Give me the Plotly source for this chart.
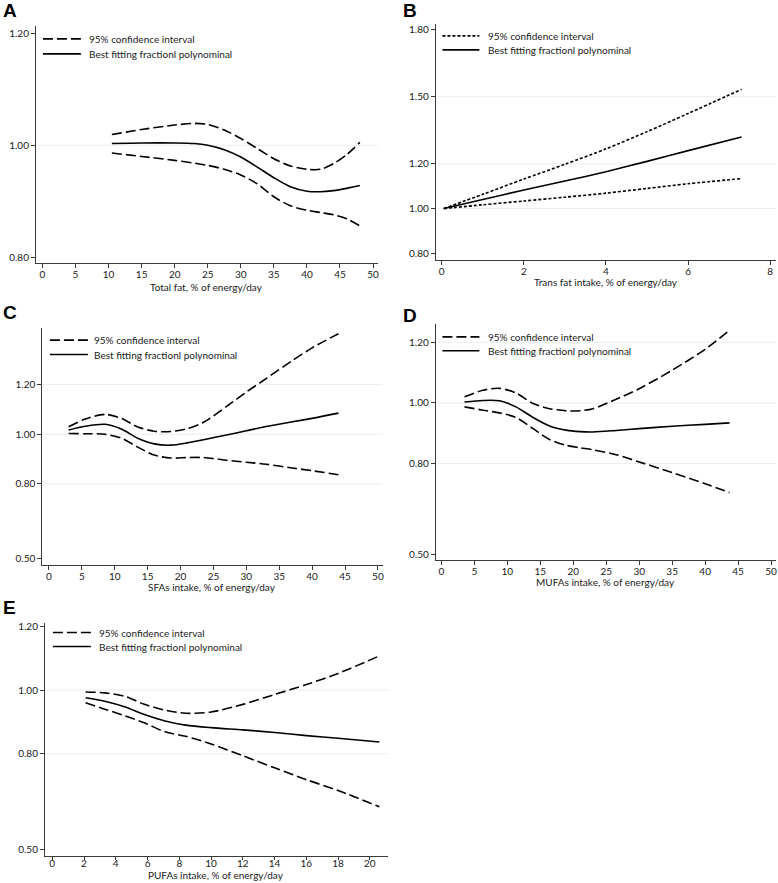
import plotly.graph_objects as go

W, H = 778, 883

# ---------------- data ----------------
legend_labels = ["95% confidence interval", "Best fitting fractionl polynominal"]
panel_letters = ["A", "B", "C", "D", "E"]
x_titles = ["Total fat, % of energy/day", "Trans fat intake, % of energy/day",
            "SFAs intake, % of energy/day", "MUFAs intake, % of energy/day",
            "PUFAs intake, % of energy/day"]

a_x = [10.5, 15, 20, 23, 25, 27.5, 30, 32.5, 35, 37.5, 40, 42, 44, 46, 48]
a_fit = [1.003, 1.004, 1.004, 1.003, 1.000, 0.992, 0.979, 0.961, 0.942, 0.926, 0.918, 0.917, 0.919, 0.923, 0.928]
a_hi = [1.019, 1.028, 1.036, 1.039, 1.037, 1.027, 1.012, 0.994, 0.976, 0.963, 0.957, 0.957, 0.967, 0.983, 1.005]
a_lo = [0.986, 0.980, 0.973, 0.968, 0.964, 0.957, 0.947, 0.931, 0.908, 0.892, 0.884, 0.880, 0.876, 0.869, 0.856]

b_x = [0.05, 1, 2, 3, 4, 5, 6, 7.3]
b_fit = [1.000, 1.041, 1.083, 1.123, 1.165, 1.211, 1.259, 1.320]
b_hi = [1.000, 1.064, 1.132, 1.198, 1.267, 1.344, 1.425, 1.533]
b_lo = [1.000, 1.017, 1.034, 1.051, 1.069, 1.090, 1.111, 1.134]

c_x = [3, 5.5, 8.5, 11, 13.5, 16, 18.5, 21, 23.5, 27, 30, 33, 37, 40, 44]
c_fit = [1.017, 1.032, 1.040, 1.021, 0.984, 0.961, 0.956, 0.965, 0.978, 0.997, 1.014, 1.031, 1.050, 1.064, 1.085]
c_hi = [1.030, 1.061, 1.080, 1.064, 1.029, 1.012, 1.011, 1.022, 1.048, 1.112, 1.170, 1.224, 1.297, 1.348, 1.405]
c_lo = [1.003, 1.002, 1.000, 0.984, 0.948, 0.916, 0.904, 0.906, 0.906, 0.895, 0.887, 0.879, 0.864, 0.853, 0.837]

d_x = [3.5, 6.3, 8.8, 11.3, 13.9, 16.4, 18.9, 21, 23, 26.5, 30, 35, 40, 43.7]
d_fit = [1.003, 1.008, 1.007, 0.987, 0.952, 0.924, 0.910, 0.905, 0.904, 0.909, 0.915, 0.923, 0.929, 0.934]
d_hi = [1.020, 1.042, 1.048, 1.033, 0.998, 0.981, 0.974, 0.974, 0.981, 1.012, 1.047, 1.108, 1.177, 1.240]
d_lo = [0.987, 0.976, 0.967, 0.952, 0.915, 0.879, 0.860, 0.852, 0.845, 0.829, 0.805, 0.770, 0.733, 0.704]

e_x = [2.1, 3.3, 4.6, 5.8, 7.1, 8.4, 10, 12, 14, 16, 18, 20.6]
e_fit = [0.976, 0.965, 0.947, 0.923, 0.903, 0.890, 0.882, 0.875, 0.867, 0.857, 0.849, 0.837]
e_hi = [0.994, 0.991, 0.980, 0.955, 0.937, 0.927, 0.931, 0.955, 0.986, 1.017, 1.052, 1.107]
e_lo = [0.960, 0.940, 0.919, 0.897, 0.869, 0.855, 0.831, 0.794, 0.756, 0.719, 0.685, 0.634]

a_yticks = [0.80, 1.00, 1.20]
b_yticks = [0.80, 1.00, 1.20, 1.50, 1.80]
c_yticks = [0.50, 0.80, 1.00, 1.20]
d_yticks = [0.50, 0.80, 1.00, 1.20]
e_yticks = [0.50, 0.80, 1.00, 1.20]

a_xticks = list(range(0, 51, 5))
b_xticks = list(range(0, 9, 2))
c_xticks = list(range(0, 51, 5))
d_xticks = list(range(0, 51, 5))
e_xticks = list(range(0, 21, 2))

a_grid = [1.00]
b_grid = [1.00, 1.20, 1.50]
c_grid = [0.80, 1.00, 1.20]
d_grid = [0.80, 1.00, 1.20]
e_grid = [0.80, 1.00]

# ---------------- layout geometry (pixels) ----------------
panels = [
    dict(x=a_x, fit=a_fit, hi=a_hi, lo=a_lo, xt=a_xticks, yt=a_yticks, grid=a_grid,
         box=(36, 378.3, 23, 261), xr=(-0.98, 50.72), yr=(0.7897, 1.2128),
         dash="10px,4px", leg=(43, 81, 87, 36, 51), letter=(1, 8),
         title_y=261 + 23.5, title_anchor="middle", tls=-2, xtl=4),
    dict(x=b_x, fit=b_fit, hi=b_hi, lo=b_lo, xt=b_xticks, yt=b_yticks, grid=b_grid,
         box=(436.3, 777, 20.7, 257.7), xr=(-0.146, 8.14), yr=(0.771, 1.8267),
         dash="3px,2px", leg=(443, 480, 487, 33, 47), letter=(402, 8),
         title_y=257.7 + 22, title_anchor="middle", tls=-2, xtl=4),
    dict(x=c_x, fit=c_fit, hi=c_hi, lo=c_lo, xt=c_xticks, yt=c_yticks, grid=c_grid,
         box=(42.3, 383, 326, 564), xr=(-1.02, 50.7), yr=(0.4727, 1.4285),
         dash="10px,4px", leg=(50, 88, 92, 338.3, 352.7), letter=(1, 311),
         title_y=564 + 22, title_anchor="middle", tls=-2, xtl=4),
    dict(x=d_x, fit=d_fit, hi=d_hi, lo=d_lo, xt=d_xticks, yt=d_yticks, grid=d_grid,
         box=(436.3, 777, 321.7, 559.3), xr=(-0.865, 50.75), yr=(0.4797, 1.262),
         dash="10px,4px", leg=(443, 480, 487, 335, 349), letter=(402, 314),
         title_y=559.3 + 22, title_anchor="middle", tls=-2, xtl=4),
    dict(x=e_x, fit=e_fit, hi=e_hi, lo=e_lo, xt=e_xticks, yt=e_yticks, grid=e_grid,
         box=(45, 388.3, 621.7, 855.5), xr=(-0.46, 21.13), yr=(0.4809, 1.2114),
         dash="10px,4px", leg=(53, 91, 97, 631.7, 645.7), letter=(1, 607),
         title_y=H - 0.3, title_anchor="bottom", tls=-5, xtl=3),
]

FONT = "Lato"
TXT = "#1a1a1a"
AX = "#3a3a3a"
GRID = "#e7efef"
LW = 1.6

def px(xp):
    return xp / W

def py(yp):
    return 1 - yp / H

fig = go.Figure()
layout = dict(
    width=W, height=H, margin=dict(l=0, r=0, t=0, b=0),
    paper_bgcolor="white", plot_bgcolor="white", showlegend=False,
    font=dict(family=FONT, size=10, color=TXT),
)
shapes = []
annotations = []

for i, p in enumerate(panels):
    n = "" if i == 0 else str(i + 1)
    xa, ya = "x" + n, "y" + n
    l, r, t, b = p["box"]
    layout["xaxis" + n] = dict(
        domain=[px(l), px(r)], range=list(p["xr"]), anchor=ya,
        tickvals=p["xt"], ticktext=[str(v) for v in p["xt"]],
        showline=True, linecolor=AX, linewidth=1, ticks="outside", ticklen=p["xtl"],
        tickcolor=AX, tickwidth=1, showgrid=False, zeroline=False,
        ticklabelstandoff=p["tls"],
        tickfont=dict(family=FONT, size=10, color=TXT), fixedrange=True,
    )
    layout["yaxis" + n] = dict(
        domain=[py(b), py(t)], range=list(p["yr"]), anchor=xa,
        tickvals=p["yt"], ticktext=["%.2f" % v for v in p["yt"]],
        showline=True, linecolor=AX, linewidth=1, ticks="outside", ticklen=4,
        tickcolor=AX, tickwidth=1, showgrid=False, zeroline=False,
        tickfont=dict(family=FONT, size=10, color=TXT), fixedrange=True,
    )
    for g in p["grid"]:
        shapes.append(dict(type="line", xref=xa + " domain", yref=ya, x0=0, x1=1,
                           y0=g, y1=g, line=dict(color=GRID, width=1), layer="below"))
    for key, dash, name in [("hi", p["dash"], legend_labels[0]),
                            ("lo", p["dash"], legend_labels[0]),
                            ("fit", "solid", legend_labels[1])]:
        fig.add_trace(go.Scatter(
            x=p["x"], y=p[key], mode="lines", name=name, xaxis=xa, yaxis=ya,
            line=dict(color="black", width=LW, dash=dash, shape="spline", smoothing=0.8),
            hoverinfo="x+y",
        ))
    annotations.append(dict(
        text=x_titles[i], xref="paper", yref="paper", x=px((l + r) / 2),
        y=py(p["title_y"]), xanchor="center", yanchor=p["title_anchor"], showarrow=False,
        font=dict(family=FONT, size=10, color=TXT)))
    lx, ly = p["letter"]
    annotations.append(dict(
        text="<b>%s</b>" % panel_letters[i], xref="paper", yref="paper", x=px(lx), y=py(ly),
        xanchor="left", yanchor="middle", showarrow=False,
        font=dict(family="Liberation Sans", size=19, color="black")))
    x0, x1, tx, r1, r2 = p["leg"]
    for row_y, dash, lab in [(r1, p["dash"], legend_labels[0]), (r2, "solid", legend_labels[1])]:
        shapes.append(dict(type="line", xref="paper", yref="paper", x0=px(x0), x1=px(x1),
                           y0=py(row_y), y1=py(row_y), line=dict(color="black", width=LW, dash=dash)))
        annotations.append(dict(
            text=lab, xref="paper", yref="paper", x=px(tx), y=py(row_y),
            xanchor="left", yanchor="middle", showarrow=False,
            font=dict(family=FONT, size=10, color=TXT)))

layout["shapes"] = shapes
layout["annotations"] = annotations
fig.update_layout(**layout)
fig.write_html("out.html", config={"displayModeBar": False},
               post_script="document.body.style.margin='0';document.body.style.padding='0';"
                           "document.body.style.overflow='hidden';")
